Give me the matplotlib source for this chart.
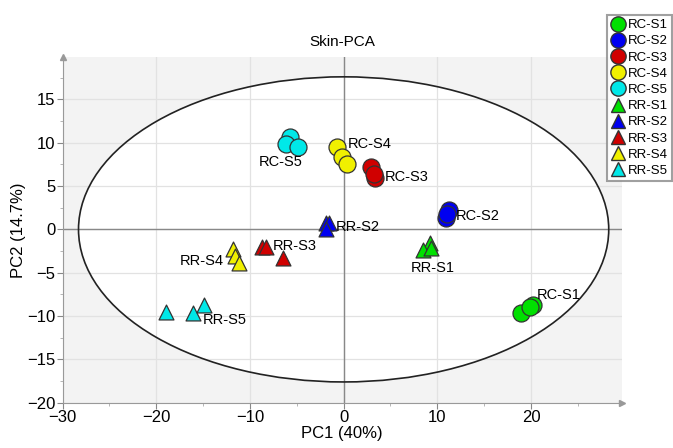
import matplotlib
matplotlib.use("Agg")
import matplotlib.pyplot as plt
from matplotlib.patches import Ellipse
from matplotlib.lines import Line2D

plt.rcParams['font.family'] = ['Liberation Sans', 'DejaVu Sans']

# PCA scores (PC1, PC2), three replicates per group
groups = ['RC-S1', 'RC-S2', 'RC-S3', 'RC-S4', 'RC-S5',
          'RR-S1', 'RR-S2', 'RR-S3', 'RR-S4', 'RR-S5']
pc1 = {
    'RC-S1': [20.2, 18.9, 19.9],
    'RC-S2': [11.2, 10.9, 11.0],
    'RC-S3': [2.9, 3.4, 3.2],
    'RC-S4': [-0.7, -0.2, 0.4],
    'RC-S5': [-5.7, -6.2, -4.9],
    'RR-S1': [9.2, 8.5, 9.3],
    'RR-S2': [-1.9, -1.6, -1.9],
    'RR-S3': [-8.7, -8.3, -6.5],
    'RR-S4': [-11.8, -11.6, -11.2],
    'RR-S5': [-19.0, -16.1, -14.9],
}
pc2 = {
    'RC-S1': [-8.7, -9.7, -8.9],
    'RC-S2': [2.2, 1.3, 1.8],
    'RC-S3': [7.2, 5.9, 6.4],
    'RC-S4': [9.5, 8.4, 7.6],
    'RC-S5': [10.7, 9.9, 9.5],
    'RR-S1': [-1.6, -2.4, -2.2],
    'RR-S2': [0.7, 0.7, 0.1],
    'RR-S3': [-2.0, -2.0, -3.3],
    'RR-S4': [-2.3, -3.1, -3.9],
    'RR-S5': [-9.5, -9.6, -8.7],
}
colors = ['#00e000', '#0000f0', '#d00000', '#f0f000', '#00e8e8'] * 2
markers = ['o'] * 5 + ['^'] * 5

# Hotelling ellipse half axes
ell_a, ell_b = 28.3, 17.6

# label placement (x, y, ha)
label_pos = {
    'RC-S1': (20.6, -7.6, 'left'),
    'RC-S2': (12.0, 1.5, 'left'),
    'RC-S3': (4.4, 6.1, 'left'),
    'RC-S4': (0.4, 9.8, 'left'),
    'RC-S5': (-6.7, 7.8, 'center'),
    'RR-S1': (9.5, -4.4, 'center'),
    'RR-S2': (-0.8, 0.3, 'left'),
    'RR-S3': (-7.6, -1.9, 'left'),
    'RR-S4': (-12.8, -3.7, 'right'),
    'RR-S5': (-15.0, -10.5, 'left'),
}

fig = plt.figure(figsize=(6.73, 4.48), dpi=100)
ax = fig.add_axes([0.093, 0.101, 0.831, 0.772])
ax.set_facecolor('#f3f3f3')
ax.set_xlim(-30, 29.7)
ax.set_ylim(-20, 19.9)

ax.add_patch(Ellipse((0, 0), 2 * ell_a, 2 * ell_b, facecolor='white',
                     edgecolor='none', zorder=0.3))
ax.add_patch(Ellipse((0, 0), 2 * ell_a, 2 * ell_b, facecolor='none',
                     edgecolor='#222222', lw=1.2, zorder=2))

ax.set_xticks([-30, -20, -10, 0, 10, 20])
ax.set_yticks([-20, -15, -10, -5, 0, 5, 10, 15])
ax.set_xticks([-25, -15, -5, 5, 15, 25], minor=True)
ax.set_yticks([-17.5, -12.5, -7.5, -2.5, 2.5, 7.5, 12.5, 17.5], minor=True)
ax.grid(True, which='major', color='#e2e2e2', lw=0.9)
ax.set_axisbelow('line')
ax.tick_params(which='major', length=4, color='#888888', labelsize=12, pad=1)
ax.tick_params(which='minor', length=2, color='#aaaaaa')
ax.axhline(0, color='#888888', lw=1, zorder=1.6)
ax.axvline(0, color='#888888', lw=1, zorder=1.6)

for s in ['top', 'right']:
    ax.spines[s].set_visible(False)
for s in ['left', 'bottom']:
    ax.spines[s].set_color('#999999')
ax.plot(1, 0, '>', color='#999999', ms=5, transform=ax.transAxes, clip_on=False)
ax.plot(0, 1, '^', color='#999999', ms=5, transform=ax.transAxes, clip_on=False)

for g, c, m in zip(groups, colors, markers):
    size = 150 if m == 'o' else 115
    ax.scatter(pc1[g], pc2[g], s=size, marker=m, c=c, edgecolors='#333333',
               linewidths=0.9, zorder=3)
    lx, ly, ha = label_pos[g]
    ax.text(lx, ly, g, ha=ha, va='center', fontsize=10.5, zorder=4)

ax.set_xlabel('PC1 (40%)', fontsize=12, labelpad=1)
ax.set_ylabel('PC2 (14.7%)', fontsize=12, labelpad=1)
ax.set_title('Skin-PCA', fontsize=11, pad=8)

handles = [Line2D([], [], ls='none', marker=m, color=c, markeredgecolor='#333333',
                  markersize=11 if m == 'o' else 10)
           for c, m in zip(colors, markers)]
leg = fig.legend(handles, groups, loc='upper right', bbox_to_anchor=(0.9985, 0.9665),
                 fontsize=9.5, frameon=True, fancybox=False, borderpad=0.3,
                 handlelength=1.0, handletextpad=0.25, labelspacing=0.3,
                 borderaxespad=0)
leg.get_frame().set_edgecolor('#888888')
leg.get_frame().set_linewidth(1.5)

fig.savefig('out.png', dpi=100)
